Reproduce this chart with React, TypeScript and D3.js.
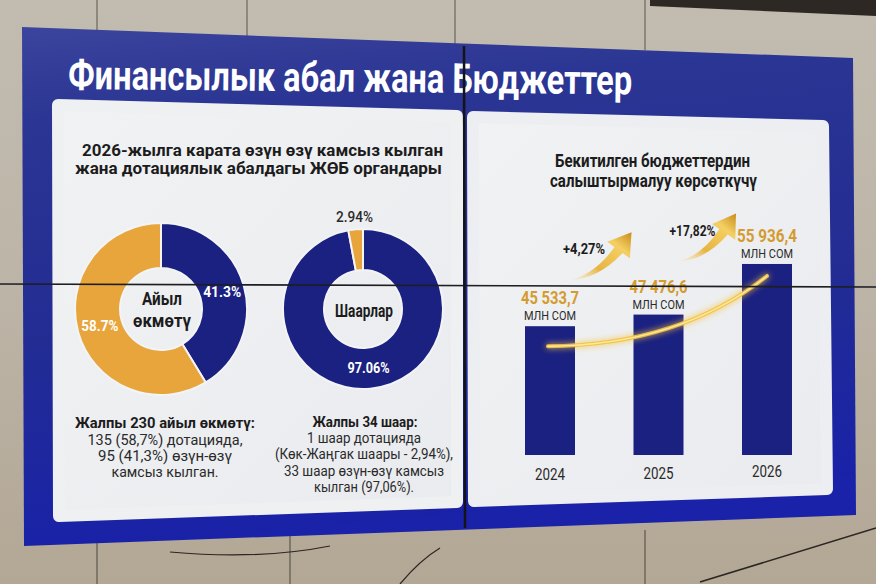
import React from "react";
import * as d3 from "d3";

const W = 876;
const H = 584;

const TITLE = "Финансылык абал жана Бюджеттер";
const LEFT_TITLE = ["2026-жылга карата өзүн өзү камсыз кылган", "жана дотациялык абалдагы ЖӨБ органдары"];
const RIGHT_TITLE = ["Бекитилген бюджеттердин", "салыштырмалуу көрсөткүчү"];

const AYIL_CATS = ["өзүн-өзү камсыз", "дотацияда"];
const AYIL_VALUES = [41.3, 58.7];
const AYIL_CENTER = ["Айыл", "өкмөтү"];
const SHAAR_CATS = ["өзүн-өзү камсыз", "дотацияда"];
const SHAAR_VALUES = [97.06, 2.94];
const SHAAR_CENTER = ["Шаарлар"];

const AYIL_NOTE_HEAD = "Жалпы 230 айыл өкмөтү:";
const AYIL_NOTE = ["135 (58,7%) дотацияда,", "95 (41,3%) өзүн-өзү", "камсыз кылган."];
const SHAAR_NOTE_HEAD = "Жалпы 34 шаар:";
const SHAAR_NOTE = ["1 шаар дотацияда", "(Көк-Жаңгак шаары - 2,94%),", "33 шаар өзүн-өзү камсыз", "кылган (97,06%)."];

const YEARS = ["2024", "2025", "2026"];
const BUDGETS = [45533.7, 47476.6, 55936.4];
const UNIT = "млн сом";

const NAVY = "#1b2180";
const GOLD = "#e8a53c";
const GOLD_TXT = "#d49b2f";
const INK = "#1c1c1c";
const FONT = "Roboto, 'Open Sans', sans-serif";

const loc = d3.formatLocale({ decimal: ",", thousands: " ", grouping: [3], currency: ["", ""] });
const fmtBudget = loc.format(",.1f");
const fmtGrowth = loc.format("+.2f");

type DonutProps = {
  cx: number; cy: number; r0: number; r1: number;
  values: number[]; cats: string[]; digits: number;
  center: string[]; centerY: number[]; centerW: number[];
  labelW: number[]; outsideIdx: number;
};

function Donut(p: DonutProps) {
  const pie = d3.pie<number>().sort(null).value((d) => d)(p.values);
  const arc = d3.arc<d3.PieArcDatum<number>>().innerRadius(p.r0).outerRadius(p.r1);
  const fmt = d3.format(`.${p.digits}f`);
  const colors = d3.scaleOrdinal<string, string>().domain(p.cats).range([NAVY, GOLD]);
  const outArc = d3.arc<d3.PieArcDatum<number>>().innerRadius(p.r1 + 12).outerRadius(p.r1 + 12);
  return (
    <g transform={`translate(${p.cx},${p.cy})`}>
      {pie.map((s, i) => (
        <path key={i} d={arc(s) || ""} fill={colors(p.cats[i])} stroke="#f3f4f6" strokeWidth={2} />
      ))}
      {pie.map((s, i) => {
        const outside = i === p.outsideIdx;
        const [x, y] = outside ? outArc.centroid(s) : arc.centroid(s);
        return (
          <text key={"l" + i} x={x} y={y + 5} textAnchor="middle" fontSize={14} fontWeight={outside ? 500 : 700}
            fill={outside ? "#2a2a2a" : "#ffffff"} textLength={p.labelW[i]} lengthAdjust="spacingAndGlyphs">
            {fmt(p.values[i]) + "%"}
          </text>
        );
      })}
      {p.center.map((t, i) => (
        <text key={"c" + i} x={1} y={p.centerY[i]} textAnchor="middle" fontSize={18} fontWeight={700} fill={INK}
          textLength={p.centerW[i]} lengthAdjust="spacingAndGlyphs">{t}</text>
      ))}
    </g>
  );
}

function arrowPath(tx: number, ty: number, px: number, py: number) {
  const dx = px - tx, dy = py - ty;
  const len = Math.hypot(dx, dy);
  const ang = Math.atan2(dy, dx) - 0.28;
  const ux = Math.cos(ang), uy = Math.sin(ang);
  const nx = -uy, ny = ux;
  const hl = Math.min(22, len * 0.3);
  const hx = px - ux * hl, hy = py - uy * hl;
  const cx = tx + (hx - tx) * 0.55, cy = ty + (hy - ty) * 0.15;
  const w = 5, hw = 14;
  return `M${tx},${ty} Q${cx + 2},${cy + 3} ${hx + nx * w},${hy + ny * w} L${hx + nx * hw},${hy + ny * hw} L${px},${py} L${hx - nx * hw},${hy - ny * hw} L${hx - nx * w},${hy - ny * w} Q${cx - 1},${cy - 2} ${tx},${ty} Z`;
}

export default function App() {
  const x = d3.scalePoint<string>().domain(YEARS).range([550, 767]);
  const y = d3.scaleLinear().domain([24000, 56000]).range([455, 455 - 191.4]);
  const barW = 50;
  const growth = BUDGETS.slice(1).map((v, i) => fmtGrowth((v / BUDGETS[i] - 1) * 100) + "%");

  const valueW = [58, 58, 60];
  const growthW = [42, 46];

  const tops = BUDGETS.map((v) => y(v));
  const c0 = { x: x(YEARS[0])! - 2, y: tops[0] + 20 };
  const c2 = { x: x(YEARS[2])!, y: tops[2] + 12 };

  return (
    <svg width={W} height={H} viewBox={`0 0 ${W} ${H}`} style={{ position: "absolute", left: 0, top: 0 }} fontFamily={FONT}>
      <defs>
        <linearGradient id="wall" x1="0" y1="0" x2="0" y2="1">
          <stop offset="0" stopColor="#c2bcb0" />
          <stop offset="0.5" stopColor="#bcb4a7" />
          <stop offset="1" stopColor="#b3a795" />
        </linearGradient>
        <linearGradient id="blue" x1="0" y1="0" x2="0.15" y2="1">
          <stop offset="0" stopColor="#3b459d" />
          <stop offset="0.18" stopColor="#2b3593" />
          <stop offset="0.6" stopColor="#222c93" />
          <stop offset="1" stopColor="#1922a8" />
        </linearGradient>
        <linearGradient id="white" x1="0" y1="0" x2="1" y2="1">
          <stop offset="0" stopColor="#f1f2f4" />
          <stop offset="1" stopColor="#e9ebee" />
        </linearGradient>
        <linearGradient id="goldArrow" x1="0" y1="1" x2="1" y2="0">
          <stop offset="0" stopColor="#f6e6a8" stopOpacity="0.2" />
          <stop offset="0.35" stopColor="#e8b441" />
          <stop offset="0.75" stopColor="#f4cf62" />
          <stop offset="1" stopColor="#c98b1c" />
        </linearGradient>
        <filter id="glow" x="-20%" y="-50%" width="140%" height="200%">
          <feGaussianBlur stdDeviation="3" result="b" />
          <feMerge>
            <feMergeNode in="b" />
            <feMergeNode in="SourceGraphic" />
          </feMerge>
        </filter>
      </defs>

      {/* wall */}
      <rect x={0} y={0} width={W} height={H} fill="url(#wall)" />
      <path d="M650,0 L876,0 L876,16 L650,6 Z" fill="#2e2824" />
      {[97, 247, 455, 645].map((wx) => (
        <line key={"wt" + wx} x1={wx} y1={0} x2={wx} y2={50} stroke="#7d766b" strokeWidth={1.5} />
      ))}
      {[97, 290, 645].map((wx) => (
        <line key={"wb" + wx} x1={wx} y1={530} x2={wx} y2={H} stroke="#6f675c" strokeWidth={1.5} />
      ))}
      <line x1={700} y1={582} x2={876} y2={528} stroke="#2a2622" strokeWidth={1.5} />
      <path d="M170,552 Q260,560 330,546" fill="none" stroke="#2a2622" strokeWidth={1.2} />
      <path d="M440,548 Q420,560 400,584" fill="none" stroke="#2a2622" strokeWidth={1.2} />

      {/* screen */}
      <path d="M22,27 L853,58 L856,515 L24,546 Z" fill="url(#blue)" />
      <path d="M58,105 L457,116 L457,502 L59,516 Z" fill="url(#white)" stroke="#eef0f2" strokeWidth={12} strokeLinejoin="round" />
      <path d="M473,117 L823,126 L827,489 L474,501 Z" fill="url(#white)" stroke="#eceef1" strokeWidth={12} strokeLinejoin="round" />

      {/* title */}
      <text x={68} y={89} fontSize={41} fontWeight={700} fill="#ffffff" textLength={564} lengthAdjust="spacingAndGlyphs"
        transform="rotate(0.55,68,89)">{TITLE}</text>

      {/* left panel */}
      <text x={82} y={156} fontSize={16} fontWeight={700} fill={INK} textLength={361} lengthAdjust="spacingAndGlyphs">{LEFT_TITLE[0]}</text>
      <text x={75} y={174} fontSize={16} fontWeight={700} fill={INK} textLength={367} lengthAdjust="spacingAndGlyphs">{LEFT_TITLE[1]}</text>

      <Donut cx={161} cy={309} r0={41} r1={86} values={AYIL_VALUES} cats={AYIL_CATS} digits={1}
        center={AYIL_CENTER} centerY={[-4, 18]} centerW={[40, 58]} labelW={[38, 37]} outsideIdx={-1} />
      <Donut cx={363} cy={309} r0={39} r1={80} values={SHAAR_VALUES} cats={SHAAR_CATS} digits={2}
        center={SHAAR_CENTER} centerY={[8]} centerW={[58]} labelW={[42, 37]} outsideIdx={1} />

      <text x={75} y={428} fontSize={15} fontWeight={700} fill={INK} textLength={180} lengthAdjust="spacingAndGlyphs">{AYIL_NOTE_HEAD}</text>
      {AYIL_NOTE.map((t, i) => (
        <text key={"an" + i} x={165} y={445 + i * 16} textAnchor="middle" fontSize={14.5} fill="#2a2a2a"
          textLength={[155, 134, 107][i]} lengthAdjust="spacingAndGlyphs">{t}</text>
      ))}
      <text x={365} y={427} textAnchor="middle" fontSize={15} fontWeight={700} fill={INK} textLength={105} lengthAdjust="spacingAndGlyphs">{SHAAR_NOTE_HEAD}</text>
      {SHAAR_NOTE.map((t, i) => (
        <text key={"sn" + i} x={364} y={443 + i * 16.3} textAnchor="middle" fontSize={14.5} fill="#2a2a2a"
          textLength={[114, 178, 160, 100][i]} lengthAdjust="spacingAndGlyphs">{t}</text>
      ))}

      {/* right panel */}
      <text x={555} y={167} fontSize={17.5} fontWeight={700} fill={INK} textLength={195} lengthAdjust="spacingAndGlyphs">{RIGHT_TITLE[0]}</text>
      <text x={550} y={187} fontSize={17.5} fontWeight={700} fill={INK} textLength={207} lengthAdjust="spacingAndGlyphs">{RIGHT_TITLE[1]}</text>

      {YEARS.map((yr, i) => (
        <rect key={"b" + yr} x={x(yr)! - barW / 2} y={y(BUDGETS[i])} width={barW} height={y(24000) - y(BUDGETS[i])} fill={NAVY} />
      ))}

      {/* glowing curve */}
      <path d={`M${c0.x},${c0.y} Q680,${c0.y - 1} ${c2.x},${c2.y}`} fill="none" stroke="#f3c443" strokeWidth={4}
        strokeLinecap="round" filter="url(#glow)" opacity={0.95} />
      <path d={`M${c0.x},${c0.y} Q680,${c0.y - 1} ${c2.x},${c2.y}`} fill="none" stroke="#ffe9a0" strokeWidth={1.5} strokeLinecap="round" />

      {YEARS.map((yr, i) => (
        <g key={"lab" + yr}>
          <text x={x(yr)!} y={tops[i] - 22} textAnchor="middle" fontSize={18} fontWeight={700} fill={GOLD_TXT}
            textLength={valueW[i]} lengthAdjust="spacingAndGlyphs">{fmtBudget(BUDGETS[i])}</text>
          <text x={x(yr)!} y={tops[i] - 6} textAnchor="middle" fontSize={12} fill="#2a2a2a"
            textLength={52} lengthAdjust="spacingAndGlyphs">{UNIT.toUpperCase()}</text>
          <text x={x(yr)!} y={480 - i * 1.5} textAnchor="middle" fontSize={16} fill="#2a2a2a"
            textLength={30} lengthAdjust="spacingAndGlyphs">{yr}</text>
        </g>
      ))}

      {growth.map((g, i) => {
        const tx = x(YEARS[i])! + 20;
        const ty = tops[i] - 46 - 7 * i;
        const px = x(YEARS[i + 1])! - 27 - 4 * i;
        const py = ty - 48;
        return (
          <g key={"g" + i}>
            <path d={arrowPath(tx, ty, px, py)} fill="url(#goldArrow)" />
            <text x={tx + 14} y={ty - 26} textAnchor="middle" fontSize={15} fontWeight={700} fill={INK}
              textLength={growthW[i]} lengthAdjust="spacingAndGlyphs">{g}</text>
          </g>
        );
      })}

      {/* video wall bezels */}
      <line x1={0} y1={284} x2={W} y2={287} stroke="#1d1d22" strokeWidth={1.6} />
      <line x1={464} y1={46} x2={465} y2={528} stroke="#141418" strokeWidth={2.5} />
    </svg>
  );
}
